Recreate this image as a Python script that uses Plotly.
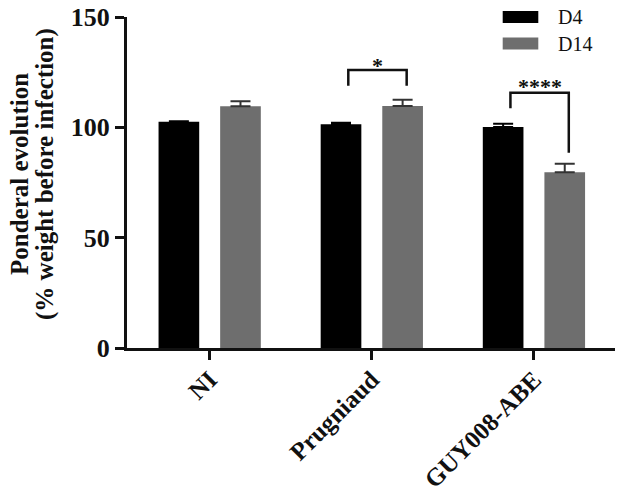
import plotly.graph_objects as go

categories = ["NI", "Prugniaud", "GUY008-ABE"]
d4_values = [102.5, 101.4, 100.1]
d4_err = [0.3, 0.7, 1.5]
d14_values = [109.5, 109.7, 79.7]
d14_err = [2.3, 2.8, 3.8]
series_names = ["D4", "D14"]
y_ticks = [0, 50, 100, 150]

# significance brackets
sig_cat = [1, 2]
sig_top = [126.0, 115.7]
sig_left_bottom = [118.8, 108.6]
sig_right_bottom = [118.8, 88.5]
sig_label = ["*", "****"]
sig_label_y = [127.8, 118.3]

FONT = "Liberation Serif, Times New Roman, serif"
xpos = list(range(len(categories)))

# page offset (browser body margin) compensation
OFF = 8
PL, PR, PT, PB = 127, 615, 17, 348  # plot area in page pixels
PW, PH = PR - PL, PB - PT

fig = go.Figure()
fig.add_trace(go.Bar(
    x=xpos, y=d4_values, name=series_names[0],
    marker=dict(color="#000000", line=dict(width=0)),
    error_y=dict(type="data", symmetric=False, array=d4_err, arrayminus=[0]*3,
                 color="#000000", thickness=2, width=10),
    showlegend=False,
))
fig.add_trace(go.Bar(
    x=xpos, y=d14_values, name=series_names[1],
    marker=dict(color="#6e6e6e", line=dict(width=0)),
    error_y=dict(type="data", symmetric=False, array=d14_err, arrayminus=[0]*3,
                 color="#333333", thickness=2, width=10),
    showlegend=False,
))

for c, top, lb, rb, lab, ly in zip(sig_cat, sig_top, sig_left_bottom, sig_right_bottom, sig_label, sig_label_y):
    xl, xr = c - 0.145, c + 0.215
    fig.add_shape(type="path",
                  path=f"M {xl},{lb} L {xl},{top} L {xr},{top} L {xr},{rb}",
                  xref="x", yref="y", line=dict(color="#111111", width=2.5))
    fig.add_annotation(x=(xl + xr) / 2, y=ly, text=f"<b>{lab}</b>", showarrow=False,
                       xref="x", yref="y", yanchor="middle",
                       font=dict(family=FONT, size=22, color="#111111"))

# manual legend
leg_colors = ["#000000", "#6e6e6e"]
leg_y = [[11, 23], [37.5, 49.5]]
for name, col, (y0, y1) in zip(series_names, leg_colors, leg_y):
    fig.add_shape(type="rect", xref="paper", yref="paper",
                  x0=(502.7 - PL) / PW, x1=(538.3 - PL) / PW,
                  y0=(PB - y1) / PH, y1=(PB - y0) / PH,
                  fillcolor=col, line=dict(width=0))
    fig.add_annotation(xref="paper", yref="paper", x=(556 - PL) / PW,
                       y=(PB - (y0 + y1) / 2) / PH, text=name, showarrow=False,
                       xanchor="left", yanchor="middle",
                       font=dict(family=FONT, size=20, color="#111111"))

for txt, px in [("Ponderal evolution", 19), ("(% weight before infection)", 45)]:
    fig.add_annotation(xref="paper", yref="paper", x=(px - PL) / PW, y=(PB - 174) / PH,
                       text=f"<b>{txt}</b>", textangle=-90, showarrow=False,
                       xanchor="center", yanchor="middle",
                       font=dict(family=FONT, size=25, color="#111111"))

fig.update_layout(
    width=630 - OFF, height=492 - OFF,
    margin=dict(l=PL - OFF, r=630 - PR, t=PT - OFF, b=492 - PB, autoexpand=False),
    paper_bgcolor="white", plot_bgcolor="white",
    barmode="group", bargap=0.24, bargroupgap=0.34,
    font=dict(family=FONT, color="#111111"),
    xaxis=dict(range=[-0.51, 2.5], tickvals=xpos, automargin=False,
               ticktext=[f"<b>{c}</b>" for c in categories],
               tickangle=-45, ticks="outside", ticklen=9, tickwidth=3, tickcolor="#111111",
               ticklabelstandoff=-5, ticklabeloverflow="allow",
               showline=True, linewidth=3, linecolor="#111111", showgrid=False, zeroline=False,
               tickfont=dict(family=FONT, size=25, color="#111111")),
    yaxis=dict(range=[0, 150], tickvals=y_ticks, automargin=False,
               ticktext=[f"<b>{v}</b>" for v in y_ticks],
               ticklabeloverflow="allow",
               ticks="outside", ticklen=9, tickwidth=3, tickcolor="#111111",
               showline=True, linewidth=3, linecolor="#111111", showgrid=False, zeroline=False,
               tickfont=dict(family=FONT, size=26, color="#111111")),
)

fig.write_html("out.html")
